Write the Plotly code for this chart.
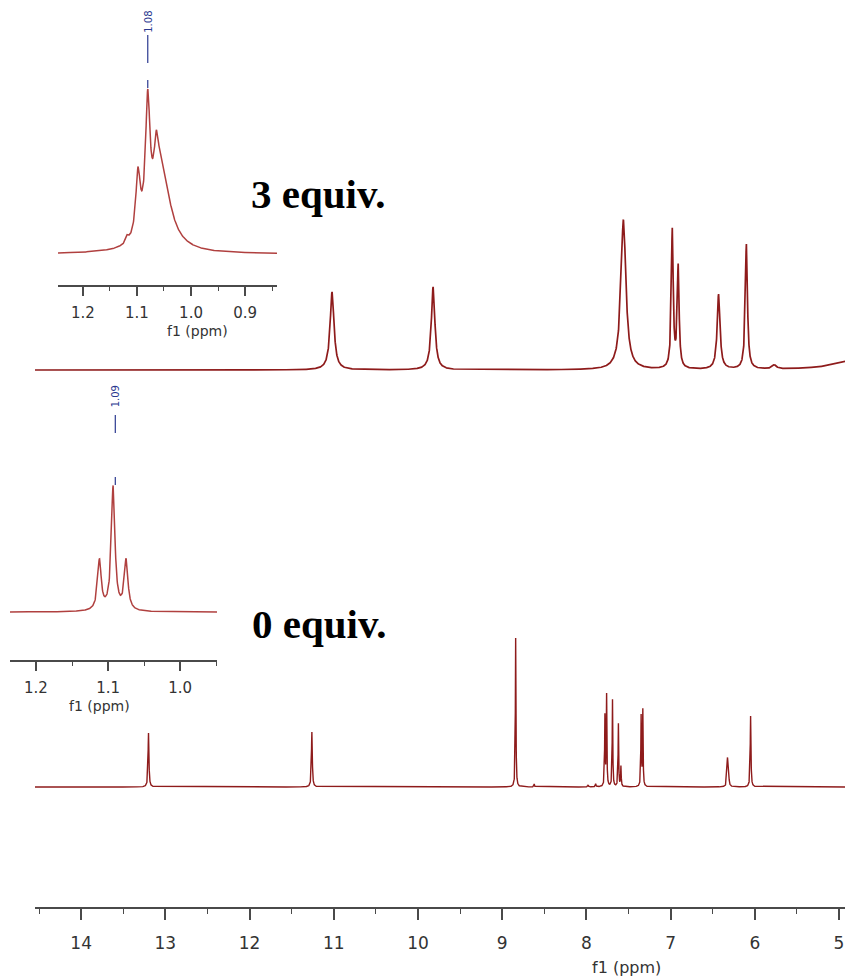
import numpy as np
import plotly.graph_objects as go

W, H = 845, 979

# ---------------- data ----------------
# main axis
main_ticks = [14, 13, 12, 11, 10, 9, 8, 7, 6, 5]
main_range = [14.548, 4.929]

# 3 equiv. spectrum: peak positions (ppm), heights, line widths (ppm)
top_ppm = [11.02, 9.82, 7.56, 6.98, 6.91, 6.43, 6.10, 5.77, 4.80]
top_h = [78, 83, 150, 138, 101, 75, 125, 4, 10]
top_w = [0.055, 0.05, 0.07, 0.026, 0.026, 0.04, 0.03, 0.06, 0.6]

# 0 equiv. spectrum
bot_ppm = [13.20, 11.26, 8.84, 8.62, 7.98, 7.89, 7.78, 7.76, 7.69, 7.62, 7.59,
           7.35, 7.33, 6.325, 6.315, 6.05]
bot_h = [54, 55, 149, 3, 2, 3, 70, 91, 87, 63, 20, 70, 76, 23, 23, 71]
bot_w = [0.012, 0.012, 0.008, 0.01, 0.01, 0.01, 0.008, 0.008, 0.008, 0.008,
         0.008, 0.008, 0.008, 0.012, 0.012, 0.010]

# inset, 3 equiv. (CH3 region)
in1_ppm = [1.118, 1.098, 1.080, 1.064, 1.055]
in1_h = [6, 63, 125, 45, 80]
in1_w = [0.006, 0.010, 0.010, 0.010, 0.040]
in1_ticks = [1.2, 1.1, 1.0, 0.9]
in1_range = [1.246, 0.841]
in1_label = 1.08

# inset, 0 equiv.
in2_ppm = [1.112, 1.093, 1.075]
in2_h = [50, 124, 50]
in2_w = [0.006, 0.006, 0.006]
in2_ticks = [1.2, 1.1, 1.0]
in2_range = [1.236, 0.949]
in2_label = 1.09

# ---------------- helpers ----------------
def spectrum(grid, ppm, h, w):
    y = np.zeros_like(grid)
    for p, a, fw in zip(ppm, h, w):
        g = fw / 2.0
        y += a / (1.0 + ((grid - p) / g) ** 2)
    return y

def px(x):
    return x / W

def py(y):
    return 1 - y / H

LINE = "#8E1B1B"
INSET_LINE = "#B0403F"
AX = "#4a4a4a"
TXT = "#333333"
BLUE = "#2B3990"

fig = go.Figure()

grid = np.arange(4.92, 14.56, 0.001)
top_base = 907 - 370
bot_base = 907 - 787
fig.add_trace(go.Scatter(x=grid, y=top_base + spectrum(grid, top_ppm, top_h, top_w),
                         mode="lines", line=dict(color=LINE, width=1.7),
                         xaxis="x", yaxis="y", hoverinfo="skip"))
fig.add_trace(go.Scatter(x=grid, y=bot_base + spectrum(grid, bot_ppm, bot_h, bot_w),
                         mode="lines", line=dict(color=LINE, width=1.4),
                         xaxis="x", yaxis="y", hoverinfo="skip"))

g1 = np.arange(0.841, 1.2465, 0.0004)
fig.add_trace(go.Scatter(x=g1, y=31 + spectrum(g1, in1_ppm, in1_h, in1_w),
                         mode="lines", line=dict(color=INSET_LINE, width=1.5),
                         xaxis="x2", yaxis="y2", hoverinfo="skip"))
g2 = np.arange(0.949, 1.2365, 0.0004)
fig.add_trace(go.Scatter(x=g2, y=48 + spectrum(g2, in2_ppm, in2_h, in2_w),
                         mode="lines", line=dict(color=INSET_LINE, width=1.5),
                         xaxis="x3", yaxis="y3", hoverinfo="skip"))

tickfont_main = dict(family="DejaVu Sans", size=17, color=TXT)
tickfont_in = dict(family="DejaVu Sans", size=15, color=TXT)

def xaxis_common(rng, ticks, minor_dt, ticklen, font, fmt, standoff):
    return dict(range=rng, tickmode="array", tickvals=ticks,
                ticktext=[fmt.format(t) for t in ticks],
                showline=True, linecolor=AX, linewidth=1.5,
                ticks="outside", ticklen=ticklen, tickwidth=1.5, tickcolor=AX,
                minor=dict(dtick=minor_dt, tick0=0, ticks="outside",
                           ticklen=max(3, ticklen // 2), tickwidth=1.3, tickcolor=AX),
                showgrid=False, zeroline=False, tickfont=font,
                ticklabelstandoff=standoff)

fig.update_layout(
    width=W, height=H, margin=dict(l=0, r=0, t=0, b=0),
    paper_bgcolor="white", plot_bgcolor="rgba(0,0,0,0)", showlegend=False,
    xaxis=dict(domain=[px(35), 1], anchor="y",
               **xaxis_common(main_range, main_ticks, 0.5, 11, tickfont_main, "{:d}", 9)),
    yaxis=dict(domain=[py(907), 1], range=[0, 907], visible=False, anchor="x"),
    xaxis2=dict(domain=[px(58), px(277)], anchor="y2",
                **xaxis_common(in1_range, in1_ticks, 0.05, 9, tickfont_in, "{:.1f}", 4)),
    yaxis2=dict(domain=[py(285), 1], range=[0, 285], visible=False, anchor="x2"),
    xaxis3=dict(domain=[px(10), px(217)], anchor="y3",
                **xaxis_common(in2_range, in2_ticks, 0.05, 9, tickfont_in, "{:.1f}", 4)),
    yaxis3=dict(domain=[py(660), py(370)], range=[0, 290], visible=False, anchor="x3"),
)

def text_ann(text, x, y, font, **kw):
    d = dict(text=text, x=x, y=y, xref="paper", yref="paper", showarrow=False,
             xanchor="center", yanchor="middle", font=font)
    d.update(kw)
    return d

ann = []
# axis titles
ann.append(text_ann("f1 (ppm)", px(626), py(967), dict(family="DejaVu Sans", size=16, color=TXT)))
ann.append(text_ann("f1 (ppm)", px(197), py(331), dict(family="DejaVu Sans", size=14, color=TXT)))
ann.append(text_ann("f1 (ppm)", px(99), py(706), dict(family="DejaVu Sans", size=14, color=TXT)))
# sample labels
ann.append(text_ann("<b>3 equiv.</b>", px(318), py(194),
                    dict(family="Liberation Serif", size=41, color="black")))
ann.append(text_ann("<b>0 equiv.</b>", px(319), py(624),
                    dict(family="Liberation Serif", size=41, color="black")))
# peak labels
ann.append(dict(text=f"{in1_label:.2f}", x=in1_label, y=263, xref="x2", yref="y2",
                showarrow=False, textangle=-90, xanchor="center", yanchor="middle",
                font=dict(family="DejaVu Sans", size=10, color=BLUE)))
ann.append(dict(text=f"{in2_label:.2f}", x=in2_label, y=264, xref="x3", yref="y3",
                showarrow=False, textangle=-90, xanchor="center", yanchor="middle",
                font=dict(family="DejaVu Sans", size=10, color=BLUE)))
fig.update_layout(annotations=ann)

shapes = [
    dict(type="line", xref="x2", yref="y2", x0=in1_label, x1=in1_label, y0=222, y1=250,
         line=dict(color=BLUE, width=1.2)),
    dict(type="line", xref="x2", yref="y2", x0=in1_label, x1=in1_label, y0=197, y1=205,
         line=dict(color=BLUE, width=1.2)),
    dict(type="line", xref="x3", yref="y3", x0=in2_label, x1=in2_label, y0=227, y1=245,
         line=dict(color=BLUE, width=1.2)),
    dict(type="line", xref="x3", yref="y3", x0=in2_label, x1=in2_label, y0=175, y1=183,
         line=dict(color=BLUE, width=1.2)),
]
fig.update_layout(shapes=shapes)

fig.write_html("out.html")
